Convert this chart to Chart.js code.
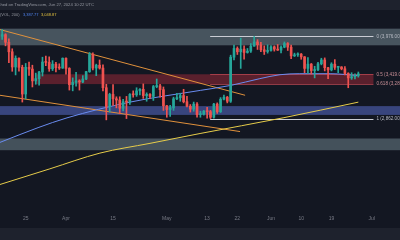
<!DOCTYPE html>
<html>
<head>
<meta charset="utf-8">
<script src="https://cdn.jsdelivr.net/npm/chart.js@4.4.1/dist/chart.umd.min.js"></script>
<style>
  html, body { margin: 0; padding: 0; background: #131722; }
  #wrap { position: relative; width: 400px; height: 240px; overflow: hidden; background: #131722; }
  #topbar { position: absolute; left: 0; top: 0; width: 400px; height: 10px; background: #1e222d; }
  #bottombar { position: absolute; left: 0; top: 228px; width: 400px; height: 12px; background: #1e222d; }
  canvas { position: absolute; left: 0; top: 0; }
  .txt { position: absolute; font-family: "Liberation Sans", Arial, sans-serif; white-space: nowrap; line-height: 1; }
</style>
</head>
<body>
<div id="wrap">
  <div id="topbar"></div>
  <div id="bottombar"></div>
  <canvas id="chart" width="400" height="240"></canvas>
  <div class="txt" style="left:-11px; top:3px; font-size:4.2px; color:#9598a1">Published on TradingView.com, Jun 27, 2024 10:22 UTC</div>
  <div class="txt" style="left:0; top:13px; font-size:4px; color:#9598a1">(VOL, 200)</div>
  <div class="txt" style="left:23px; top:13px; font-size:4px; color:#4f83ee">3,387.77</div>
  <div class="txt" style="left:41px; top:13px; font-size:4px; color:#e2c13f">3,048.87</div>
</div>
<script>
// daily candles, day 0 = 1 Apr 2024, first candle is 13 Mar
const firstDay = -19;
const opens = [3980, 4005, 3885, 3740, 3520, 3645, 3515, 3160, 3515, 3490, 3330, 3360, 3450, 3590, 3585, 3495, 3560, 3510, 3505,
  3645, 3500, 3280, 3310, 3330, 3315, 3355, 3455, 3700, 3505, 3545, 3505, 3240, 3005, 3155, 3100, 3085, 2985, 3065, 3060,
  3155, 3150, 3200, 3220, 3140, 3155, 3130, 3255, 3265, 3215, 3015, 2970, 2990, 3100, 3115, 3140, 3065, 3010, 2975, 3035,
  2910, 2915, 2950, 2945, 2880, 3035, 2945, 3095, 3120, 3070, 3660, 3790, 3740, 3780, 3730, 3750, 3825, 3890, 3845, 3770,
  3745, 3760, 3815, 3780, 3765, 3810, 3865, 3810, 3680, 3695, 3705, 3665, 3500, 3560, 3470, 3480, 3565, 3620, 3510, 3480,
  3560, 3515, 3520, 3495, 3430, 3370, 3385, 3400];
const highs = [4085, 4020, 3940, 3785, 3680, 3650, 3545, 3570, 3590, 3545, 3435, 3460, 3660, 3675, 3665, 3610, 3585, 3565, 3650,
  3650, 3510, 3370, 3445, 3345, 3400, 3460, 3730, 3725, 3560, 3620, 3550, 3285, 3170, 3280, 3125, 3125, 3095, 3130, 3165,
  3200, 3240, 3230, 3290, 3175, 3165, 3270, 3355, 3285, 3250, 3020, 3020, 3120, 3170, 3170, 3220, 3130, 3030, 3060, 3055,
  2950, 2960, 2995, 2960, 3045, 3050, 3115, 3145, 3130, 3690, 3840, 3815, 3950, 3830, 3790, 3865, 3976, 3925, 3885, 3830,
  3845, 3835, 3830, 3850, 3830, 3890, 3880, 3840, 3720, 3725, 3715, 3670, 3655, 3570, 3530, 3585, 3645, 3650, 3515, 3580,
  3625, 3530, 3525, 3525, 3440, 3440, 3425, 3450];
const lows = [3930, 3830, 3580, 3460, 3410, 3460, 3060, 3100, 3405, 3250, 3285, 3275, 3395, 3540, 3460, 3470, 3450, 3485, 3500,
  3420, 3210, 3200, 3260, 3210, 3305, 3345, 3445, 3480, 3400, 3490, 3200, 2850, 2940, 3020, 2990, 2920, 2955, 2865, 3030,
  3120, 3130, 3150, 3105, 3070, 3105, 3080, 3240, 3120, 2960, 2880, 2890, 2960, 3090, 3070, 3050, 3000, 2940, 2950, 2880,
  2880, 2905, 2870, 2865, 2870, 2925, 2935, 3085, 3050, 3055, 3620, 3700, 3500, 3630, 3720, 3730, 3825, 3775, 3740, 3700,
  3720, 3750, 3750, 3760, 3725, 3800, 3760, 3640, 3670, 3670, 3630, 3440, 3430, 3425, 3370, 3470, 3550, 3465, 3360, 3465,
  3485, 3440, 3480, 3410, 3240, 3350, 3355, 3380];
const closes = [4005, 3885, 3740, 3520, 3645, 3515, 3160, 3515, 3490, 3330, 3360, 3450, 3590, 3585, 3495, 3560, 3510, 3505, 3645,
  3500, 3280, 3310, 3330, 3315, 3355, 3455, 3700, 3505, 3545, 3505, 3240, 3005, 3155, 3100, 3085, 2985, 3065, 3060, 3155,
  3150, 3200, 3220, 3140, 3155, 3130, 3255, 3265, 3215, 3015, 2970, 2990, 3100, 3115, 3140, 3065, 3010, 2975, 3035, 2910,
  2915, 2950, 2945, 2880, 3035, 2945, 3095, 3120, 3070, 3660, 3790, 3740, 3780, 3730, 3750, 3825, 3890, 3845, 3770, 3745,
  3760, 3815, 3780, 3765, 3810, 3865, 3810, 3680, 3695, 3705, 3665, 3500, 3560, 3470, 3480, 3565, 3620, 3510, 3480, 3560,
  3515, 3520, 3495, 3430, 3370, 3385, 3400, 3425];

// time axis
const xMin = -19.64, xMax = 99.4;
const tickDays = [-12, 0, 14, 30, 42, 51, 61, 70, 79, 91];
const tickLabels = ['25', 'Apr', '15', 'May', '13', '22', 'Jun', '10', '19', 'Jul'];

// price axis (log)
const yMin = 1973, yMax = 4419;

// moving averages
const blueMaDays = [-19.64, -8.3, 0.3, 19, 40, 49, 57.7, 63.7, 69.6, 78.6, 87];
const blueMa = [2605, 2763, 2873, 3059, 3206, 3270, 3360, 3413, 3427, 3427, 3400];
const yellowMaDays = [-19.64, -4.8, 10.1, 25, 39.9, 64.6, 87];
const yellowMa = [2202, 2344, 2496, 2595, 2699, 2873, 3059];

// trend lines
const upperTrendDays = [-19.64, 53.3];
const upperTrend = [4087, 3144];
const lowerTrendDays = [-19.64, 51.8];
const lowerTrend = [3144, 2720];

// fib retracement
const fibDays = [42.9, 91.5];
const fibPrices = [3976, 3419, 3287.5, 2862];
const fibLabels = ['0 (3,976.00)', '0.5 (3,419.00)', '0.618 (3,287.48)', '1 (2,862.00)'];

// zones (null = full width)
const zoneStarts = [null, -9.2, null, null];
const zoneEnds = [null, 91.5, null, null];
const zoneLows = [3838, 3287.5, 2907, 2525];
const zoneHighs = [4102, 3419, 3011, 2646];

const up = '#26a69a', down = '#ef5350';
const candleColors = closes.map((c, i) => c >= opens[i] ? up : down);
const bodies = closes.map((c, i) => ({ x: firstDay + i, y: [opens[i], c] }));
const wicks = closes.map((c, i) => ({ x: firstDay + i, y: [lows[i], highs[i]] }));
const pts = (days, vals) => days.map((d, i) => ({ x: d, y: vals[i] }));

const zoneColors = ['#47545e', 'rgba(242, 54, 69, 0.32)', '#38457d', '#44515b'];
const fibColors = ['#c9ccd4', 'rgba(242, 90, 100, 0.55)', 'rgba(242, 90, 100, 0.55)', '#c9ccd4'];
const fibTextColors = ['#b8bbc4', '#c98f96', '#c98f96', '#b8bbc4'];

const drawings = {
  id: 'drawings',
  beforeDatasetsDraw(chart) {
    const { ctx, chartArea: a, scales: { x, y } } = chart;
    ctx.save();
    zoneLows.forEach((lo, i) => {
      const x0 = zoneStarts[i] === null ? a.left : x.getPixelForValue(zoneStarts[i]);
      const x1 = zoneEnds[i] === null ? a.right : x.getPixelForValue(zoneEnds[i]);
      const y0 = y.getPixelForValue(zoneHighs[i]);
      const y1 = y.getPixelForValue(lo);
      ctx.fillStyle = zoneColors[i];
      ctx.fillRect(x0, y0, x1 - x0, y1 - y0);
    });
    // fib level lines
    const fx0 = x.getPixelForValue(fibDays[0]), fx1 = x.getPixelForValue(fibDays[1]);
    ctx.lineWidth = 1;
    fibPrices.forEach((p, i) => {
      const py = Math.round(y.getPixelForValue(p)) + 0.5;
      ctx.strokeStyle = fibColors[i];
      ctx.beginPath();
      ctx.moveTo(fx0, py);
      ctx.lineTo(fx1, py);
      ctx.stroke();
    });
    ctx.restore();
  },
  afterDatasetsDraw(chart) {
    const { ctx, scales: { x, y } } = chart;
    ctx.save();
    ctx.font = '4.6px "Liberation Sans", Arial, sans-serif';
    ctx.textBaseline = 'middle';
    ctx.textAlign = 'left';
    const lx = x.getPixelForValue(fibDays[1]) + 3;
    fibPrices.forEach((p, i) => {
      ctx.fillStyle = fibTextColors[i];
      ctx.fillText(fibLabels[i], lx, y.getPixelForValue(p));
    });
    ctx.restore();
  }
};

new Chart(document.getElementById('chart'), {
  type: 'bar',
  data: {
    datasets: [
      { data: wicks, backgroundColor: candleColors, barThickness: 1, grouped: false },
      { data: bodies, backgroundColor: candleColors, barThickness: 2, minBarLength: 1, grouped: false },
      { type: 'line', data: pts(blueMaDays, blueMa), borderColor: '#6a8cf0', borderWidth: 1, pointRadius: 0, cubicInterpolationMode: 'monotone' },
      { type: 'line', data: pts(yellowMaDays, yellowMa), borderColor: '#e6cc4a', borderWidth: 1, pointRadius: 0, cubicInterpolationMode: 'monotone' },
      { type: 'line', data: pts(upperTrendDays, upperTrend), borderColor: '#e0913c', borderWidth: 1, pointRadius: 0 },
      { type: 'line', data: pts(lowerTrendDays, lowerTrend), borderColor: '#e0913c', borderWidth: 1, pointRadius: 0 }
    ]
  },
  options: {
    responsive: false,
    devicePixelRatio: 1,
    animation: false,
    layout: { padding: { top: 10, bottom: 14, left: 0, right: 0 } },
    plugins: { legend: { display: false }, tooltip: { enabled: false } },
    scales: {
      x: {
        type: 'linear',
        min: xMin,
        max: xMax,
        offset: false,
        grid: { display: false, drawTicks: false },
        border: { display: false },
        afterBuildTicks: s => { s.ticks = tickDays.map(v => ({ value: v })); },
        ticks: {
          color: '#787b86',
          font: { size: 5, family: 'Liberation Sans' },
          padding: 4,
          maxRotation: 0,
          autoSkip: false,
          callback: (v, i) => tickLabels[i]
        }
      },
      y: {
        type: 'logarithmic',
        min: yMin,
        max: yMax,
        display: false
      }
    }
  },
  plugins: [drawings]
});
</script>
</body>
</html>
